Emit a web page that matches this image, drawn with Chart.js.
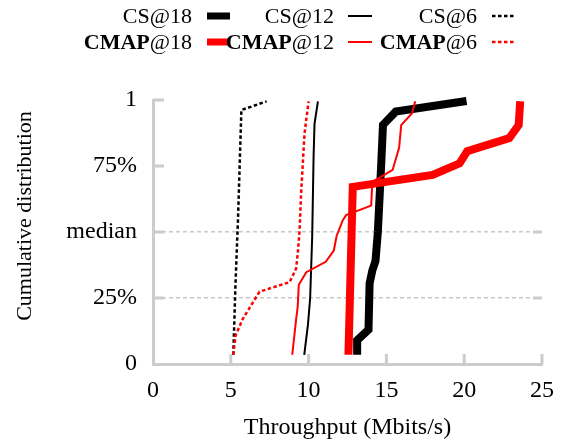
<!DOCTYPE html>
<html>
<head>
<meta charset="utf-8">
<script src="https://cdn.jsdelivr.net/npm/chart.js@4.4.1/dist/chart.umd.min.js"></script>
<style>
body { margin: 0; background: #fff; }
#wrap { position: relative; width: 579px; height: 442px; font-family: "Liberation Serif", "Times New Roman", serif; }
#myChart { position: absolute; left: 0; top: 0; }
.lab { position: absolute; font-size: 22px; line-height: 22px; white-space: nowrap; text-align: right; color: #000; }
.sw { position: absolute; }
</style>
</head>
<body>
<div id="wrap">
  <canvas id="myChart" width="579" height="442"></canvas>
  <div id="legend"></div>
</div>
<script>
// values (throughput in Mbits/s, cumulative fraction)
const cs18X = [13.12, 13.12, 13.85, 13.92, 14.1, 14.3, 14.45, 14.67, 14.78, 15.6, 20.15];
const cs18Y = [0.035, 0.09, 0.13, 0.305, 0.355, 0.39, 0.5, 0.76, 0.906, 0.956, 0.996];

const cs12X = [9.72, 9.96, 10.1, 10.23, 10.32, 10.38, 10.6];
const cs12Y = [0.035, 0.15, 0.25, 0.48, 0.785, 0.91, 0.995];

const cs6X = [5.16, 5.3, 5.46, 5.68, 7.3];
const cs6Y = [0.035, 0.3, 0.545, 0.962, 0.995];

const cmap18X = [12.56, 12.84, 17.97, 19.7, 20.2, 22.9, 23.5, 23.6];
const cmap18Y = [0.035, 0.671, 0.716, 0.76, 0.806, 0.856, 0.905, 0.995];

const cmap12X = [8.95, 9.19, 9.3, 9.37, 9.85, 11.1, 11.62, 11.8, 12.2, 12.41, 14.02, 14.1, 15.4, 15.82, 15.95, 16.65, 16.85];
const cmap12Y = [0.035, 0.165, 0.217, 0.3, 0.348, 0.387, 0.43, 0.485, 0.545, 0.564, 0.6, 0.69, 0.735, 0.82, 0.905, 0.95, 0.995];

const cmap6X = [5.15, 5.32, 5.78, 6.85, 8.78, 9.2, 9.32, 9.42, 9.53, 9.74, 10.0];
const cmap6Y = [0.035, 0.11, 0.172, 0.274, 0.31, 0.362, 0.43, 0.505, 0.66, 0.874, 0.995];

const xTicks = [0, 5, 10, 15, 20, 25];
const yTickValues = [0, 0.25, 0.5, 0.75, 1];
const yTickLabels = ['0', '25%', 'median', '75%', '1'];
const gridValues = [0.25, 0.5];

function pts(xs, ys) {
    return xs.map((x, i) => ({ x: x, y: ys[i] }));
}

const AXIS = '#cccccc';
const FONT = '"Liberation Serif", "Times New Roman", serif';

// red series listed first so they are drawn on top
const datasets = [
    { label: 'CMAP@18', data: pts(cmap18X, cmap18Y), borderColor: '#ff0000', borderWidth: 8 },
    { label: 'CMAP@12', data: pts(cmap12X, cmap12Y), borderColor: '#ff0000', borderWidth: 2 },
    { label: 'CMAP@6', data: pts(cmap6X, cmap6Y), borderColor: '#ff0000', borderWidth: 2.5, borderDash: [3.5, 2.5] },
    { label: 'CS@18', data: pts(cs18X, cs18Y), borderColor: '#000000', borderWidth: 8 },
    { label: 'CS@12', data: pts(cs12X, cs12Y), borderColor: '#000000', borderWidth: 2 },
    { label: 'CS@6', data: pts(cs6X, cs6Y), borderColor: '#000000', borderWidth: 2.5, borderDash: [3.5, 2.5] }
];
datasets.forEach(d => {
    d.pointRadius = 0;
    d.tension = 0;
    d.fill = false;
    d.clip = false;
    d.borderJoinStyle = 'miter';
    d.borderCapStyle = 'butt';
});

// little tick stubs pointing into the plot, and the rotated y title
const axisDecor = {
    id: 'axisDecor',
    beforeDatasetsDraw(chart) {
        const c = chart.ctx;
        const xs = chart.scales.x;
        const ys = chart.scales.y;
        const area = chart.chartArea;
        c.save();
        c.strokeStyle = AXIS;
        c.lineWidth = 3;
        c.beginPath();
        xTicks.slice(1).forEach(v => {
            const px = xs.getPixelForValue(v);
            c.moveTo(px, area.bottom);
            c.lineTo(px, area.bottom - 10);
        });
        [0.25, 0.5, 0.75, 1].forEach(v => {
            const py = ys.getPixelForValue(v);
            c.moveTo(area.left, py);
            c.lineTo(area.left + 11, py);
        });
        gridValues.forEach(v => {
            const py = ys.getPixelForValue(v);
            c.moveTo(area.right - 9, py);
            c.lineTo(area.right, py);
        });
        c.stroke();
        c.restore();
    },
    afterDraw(chart) {
        const c = chart.ctx;
        c.save();
        c.translate(25, 216);
        c.rotate(-Math.PI / 2);
        c.font = '22px ' + FONT;
        c.fillStyle = '#000';
        c.textAlign = 'center';
        c.textBaseline = 'middle';
        c.fillText('Cumulative distribution', 0, 0);
        c.restore();
    }
};

var ctx = document.getElementById('myChart').getContext('2d');
var myChart = new Chart(ctx, {
    type: 'line',
    data: { datasets: datasets },
    options: {
        responsive: false,
        animation: false,
        layout: { padding: { left: 0, top: 100, right: 37, bottom: 0 } },
        plugins: { legend: { display: false }, tooltip: { enabled: false } },
        scales: {
            x: {
                type: 'linear',
                min: 0,
                max: 25,
                afterFit: s => { s.height = 78; },
                afterBuildTicks: s => { s.ticks = xTicks.map(v => ({ value: v })); },
                grid: { display: false, drawTicks: false },
                border: { display: true, color: AXIS, width: 3 },
                ticks: { color: '#000', font: { family: FONT, size: 24 }, padding: 12, maxRotation: 0 },
                title: { display: true, text: 'Throughput (Mbits/s)', color: '#000', font: { family: FONT, size: 24 }, padding: { top: 0, bottom: 0 } }
            },
            y: {
                type: 'linear',
                min: 0,
                max: 1,
                afterFit: s => { s.width = 153; },
                afterBuildTicks: s => { s.ticks = yTickValues.map(v => ({ value: v })); },
                grid: {
                    drawTicks: false,
                    lineWidth: 1.5,
                    color: c => gridValues.includes(c.tick && c.tick.value) ? '#c8c8c8' : 'rgba(0,0,0,0)'
                },
                border: { display: true, color: AXIS, width: 3, dash: [4, 3] },
                ticks: {
                    color: '#000',
                    font: { family: FONT, size: 24 },
                    padding: 16,
                    callback: v => yTickLabels[yTickValues.indexOf(v)]
                }
            }
        }
    },
    plugins: [axisDecor]
});

// legend: two rows of label + line sample
const legendRows = [
    [{ name: 'CS', num: '@18', color: '#000', w: 7, dash: '' }, { name: 'CS', num: '@12', color: '#000', w: 2, dash: '' }, { name: 'CS', num: '@6', color: '#000', w: 2.5, dash: '3.5,2.5' }],
    [{ name: 'CMAP', num: '@18', color: '#f00', w: 7, dash: '' }, { name: 'CMAP', num: '@12', color: '#f00', w: 2, dash: '' }, { name: 'CMAP', num: '@6', color: '#f00', w: 2.5, dash: '3.5,2.5' }]
];
const rowY = [16, 42];
const textRight = [192, 334, 477];
const swatchX = [[207, 230], [348, 372], [492, 514]];

const legendEl = document.getElementById('legend');
legendRows.forEach((row, r) => {
    row.forEach((item, i) => {
        const sw = document.createElementNS('http://www.w3.org/2000/svg', 'svg');
        sw.setAttribute('class', 'sw');
        sw.setAttribute('width', swatchX[i][1] - swatchX[i][0]);
        sw.setAttribute('height', 10);
        sw.style.left = swatchX[i][0] + 'px';
        sw.style.top = (rowY[r] - 5) + 'px';
        const ln = document.createElementNS('http://www.w3.org/2000/svg', 'line');
        ln.setAttribute('x1', 0);
        ln.setAttribute('x2', swatchX[i][1] - swatchX[i][0]);
        ln.setAttribute('y1', 5);
        ln.setAttribute('y2', 5);
        ln.setAttribute('stroke', item.color);
        ln.setAttribute('stroke-width', item.w);
        if (item.dash) ln.setAttribute('stroke-dasharray', item.dash);
        sw.appendChild(ln);
        legendEl.appendChild(sw);

        const lab = document.createElement('div');
        lab.className = 'lab';
        lab.style.right = (579 - textRight[i]) + 'px';
        lab.style.top = (rowY[r] - 11) + 'px';
        lab.innerHTML = (r === 1 ? '<b>' + item.name + '</b>' : item.name) + item.num;
        legendEl.appendChild(lab);
    });
});
</script>
</body>
</html>
